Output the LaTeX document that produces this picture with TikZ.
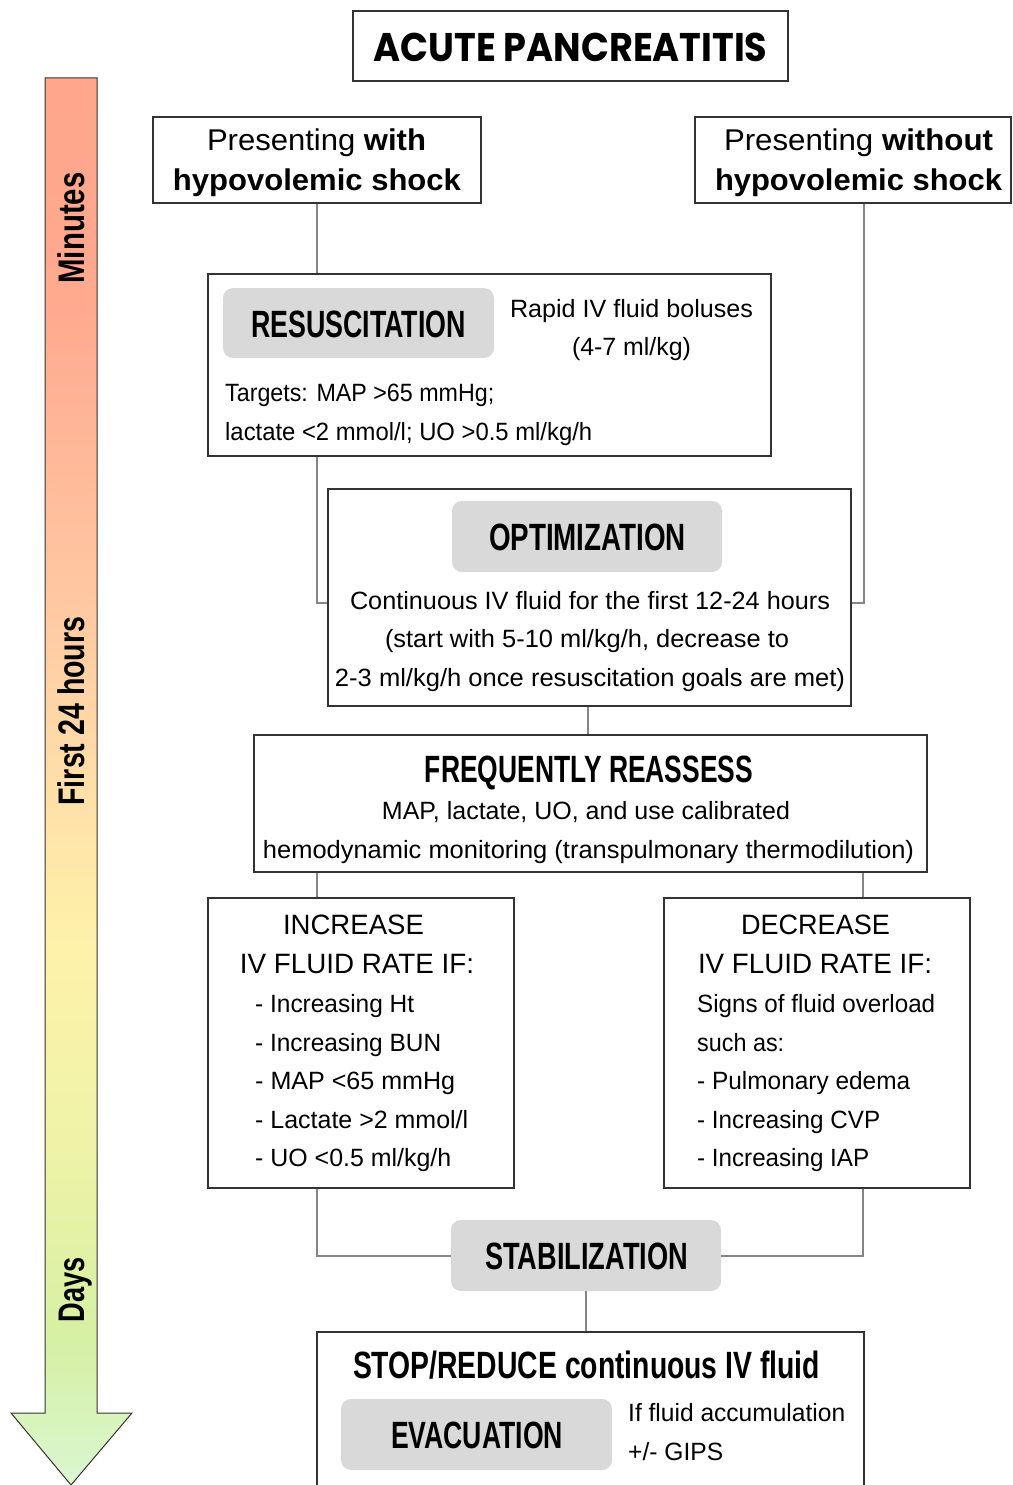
\documentclass[tikz,border=0pt]{standalone}
\usepackage{fontspec}
\setmainfont{Liberation Sans}
\newfontfamily\titlef{Poppins}
\usepackage{graphicx}
\newcommand\fit[2]{\resizebox{#1pt}{\height}{#2}}
\definecolor{boxc}{HTML}{333333}
\definecolor{linec}{HTML}{858585}
\definecolor{grayf}{HTML}{D9D9D9}
\definecolor{g0}{HTML}{FFA68C}
\definecolor{g1}{HTML}{FFA98F}
\definecolor{g2}{HTML}{FFC3A0}
\definecolor{g3}{HTML}{FFDBA8}
\definecolor{g4}{HTML}{FEF2AA}
\definecolor{g5}{HTML}{EEF3A8}
\definecolor{g6}{HTML}{D6F0A4}
\definecolor{g7}{HTML}{DAF7D2}
\pgfdeclareverticalshading{arrowshade}{100bp}{color(0bp)=(g7); color(25bp)=(g7); color(30bp)=(g6); color(37bp)=(g5); color(44bp)=(g4); color(51bp)=(g3); color(58bp)=(g2); color(67bp)=(g1); color(75bp)=(g0); color(100bp)=(g0)}
\tikzset{
  box/.style={draw=boxc, line width=1.3pt, rectangle, inner sep=0pt, fill=white},
  gbox/.style={fill=grayf, rounded corners=10pt, inner sep=0pt, rectangle},
  conn/.style={draw=linec, line width=2pt},
  txt/.style={inner sep=0pt, anchor=base, font=\fontsize{25}{28}\selectfont},
  ltxt/.style={txt, anchor=base west},
  mtxt/.style={inner sep=0pt, anchor=base, font=\fontsize{28}{31}\selectfont},
  ptxt/.style={inner sep=0pt, anchor=base, font=\fontsize{30}{33}\selectfont},
  hdr/.style={inner sep=0pt, anchor=base, font=\fontsize{38}{41}\selectfont\bfseries},
  side/.style={inner sep=0pt, anchor=base, rotate=90, font=\fontsize{37}{40}\selectfont\bfseries},
}
\begin{document}
\begin{tikzpicture}[x=1pt,y=-1pt]
\useasboundingbox (0,0) rectangle (1012,1485);
\clip (0,0) rectangle (1012,1485);
\fill[white] (0,0) rectangle (1012,1485);

% time arrow
\shadedraw[shading=arrowshade, draw=boxc, line width=1pt] (45,78) -- (97,78) -- (97,1413) -- (132,1413) -- (71,1485) -- (11,1413) -- (45,1413) -- cycle;
\node[side] (lmin) at (84,228) {\fit{111}{Minutes}};
\node[side] (lfirst) at (84,711) {\fit{189}{First 24 hours}};
\node[side] (ldays) at (84,1290) {\fit{65}{Days}};

% boxes
\node[box, minimum width=435pt, minimum height=70pt] (title) at (570.5,46) {};
\node[box, minimum width=328pt, minimum height=86pt] (with) at (317,160) {};
\node[box, minimum width=316pt, minimum height=86pt] (without) at (853,160) {};
\node[box, minimum width=563pt, minimum height=182pt] (resus) at (489.5,365) {};
\node[gbox, minimum width=271pt, minimum height=70pt] (resusG) at (358.5,323) {};
\node[box, minimum width=523pt, minimum height=217pt] (opt) at (589.5,597.5) {};
\node[gbox, minimum width=270pt, minimum height=71pt] (optG) at (587,536.5) {};
\node[box, minimum width=673pt, minimum height=137pt] (reass) at (590.5,803.5) {};
\node[box, minimum width=306pt, minimum height=290pt] (inc) at (361,1043) {};
\node[box, minimum width=306pt, minimum height=290pt] (dec) at (817,1043) {};
\node[gbox, minimum width=270pt, minimum height=71pt] (stab) at (586,1255.5) {};
\node[box, minimum width=547pt, minimum height=170pt] (stop) at (590.5,1417) {};
\node[gbox, minimum width=271pt, minimum height=71pt] (evacG) at (476.5,1434.5) {};

% connectors
\draw[conn] (with.south) -- (with.south |- resus.north);
\draw[conn] (resus.south -| with.south) |- ([yshift=-5.5pt]opt.west);
\draw[conn] ([xshift=11pt]without.south) |- ([yshift=-5.5pt]opt.east);
\draw[conn] ([xshift=-2pt]opt.south) -- ([xshift=-2pt]opt.south |- reass.north);
\draw[conn] ([xshift=-44pt]inc.north) -- ([xshift=-44pt]inc.north |- reass.south);
\draw[conn] ([xshift=46pt]dec.north) -- ([xshift=46pt]dec.north |- reass.south);
\draw[conn] ([xshift=-44pt]inc.south) |- (stab.west);
\draw[conn] ([xshift=46pt]dec.south) |- (stab.east);
\draw[conn] (stab.south) -- (stab.south |- stop.north);

% texts
\node[inner sep=0pt, anchor=base, font=\titlef\bfseries\fontsize{40}{42}\selectfont] (ttl) at (570.5,62) {\fit{394}{ACUTE PANCREATITIS}};

\node[ptxt] (w1) at (316.5,150) {\fit{219}{Presenting \textbf{with}}};
\node[ptxt] (w2) at (317,190) {\fit{288}{\textbf{hypovolemic shock}}};
\node[ptxt] (wo1) at (858.5,150) {\fit{269}{Presenting \textbf{without}}};
\node[ptxt] (wo2) at (858.5,190) {\fit{287}{\textbf{hypovolemic shock}}};

\node[hdr] (hres) at (358.5,337) {\fit{215}{RESUSCITATION}};
\node[txt] (r1) at (631.5,317) {\fit{243}{Rapid IV fluid boluses}};
\node[txt] (r2) at (631.5,355) {\fit{119}{(4-7 ml/kg)}};
\node[ltxt] (r3) at (225,401) {\fit{269}{Targets: MAP >65 mmHg;}};
\node[ltxt] (r4) at (225,440) {\fit{367}{lactate <2 mmol/l; UO >0.5 ml/kg/h}};

\node[hdr] (hopt) at (587.5,550) {\fit{197}{OPTIMIZATION}};
\node[txt] (o1) at (590,609) {\fit{480}{Continuous IV fluid for the first 12-24 hours}};
\node[txt] (o2) at (587,647) {\fit{404}{(start with 5-10 ml/kg/h, decrease to}};
\node[txt] (o3) at (590,686) {\fit{510}{2-3 ml/kg/h once resuscitation goals are met)}};

\node[hdr] (hre) at (589,782) {\fit{328}{FREQUENTLY REASSESS}};
\node[txt] (e1) at (586,819) {\fit{408}{MAP, lactate, UO, and use calibrated}};
\node[txt] (e2) at (588.5,858) {\fit{651}{hemodynamic monitoring (transpulmonary thermodilution)}};

\node[mtxt] (i1) at (353.5,934) {\fit{141}{INCREASE}};
\node[mtxt] (i2) at (357,973) {\fit{234}{IV FLUID RATE IF:}};
\node[ltxt] (i3) at (255,1012) {\fit{159}{- Increasing Ht}};
\node[ltxt] (i4) at (255,1051) {\fit{186}{- Increasing BUN}};
\node[ltxt] (i5) at (255,1089) {\fit{200}{- MAP <65 mmHg}};
\node[ltxt] (i6) at (255,1128) {\fit{213}{- Lactate >2 mmol/l}};
\node[ltxt] (i7) at (255,1166) {\fit{196}{- UO <0.5 ml/kg/h}};

\node[mtxt] (d1) at (815.5,934) {\fit{149}{DECREASE}};
\node[mtxt] (d2) at (815,973) {\fit{234}{IV FLUID RATE IF:}};
\node[ltxt] (d3) at (697,1012) {\fit{238}{Signs of fluid overload}};
\node[ltxt] (d4) at (697,1051) {\fit{87}{such as:}};
\node[ltxt] (d5) at (697,1089) {\fit{213}{- Pulmonary edema}};
\node[ltxt] (d6) at (697,1128) {\fit{183}{- Increasing CVP}};
\node[ltxt] (d7) at (697,1166) {\fit{172}{- Increasing IAP}};

\node[hdr] (hst) at (586.5,1269) {\fit{203}{STABILIZATION}};
\node[hdr] (hstop) at (586.5,1378) {\fit{467}{STOP/REDUCE continuous IV fluid}};
\node[hdr] (hev) at (477,1448) {\fit{172}{EVACUATION}};
\node[ltxt] (v1) at (628,1421) {\fit{217}{If fluid accumulation}};
\node[ltxt] (v2) at (628,1460) {\fit{95}{+/- GIPS}};
\end{tikzpicture}
\end{document}
